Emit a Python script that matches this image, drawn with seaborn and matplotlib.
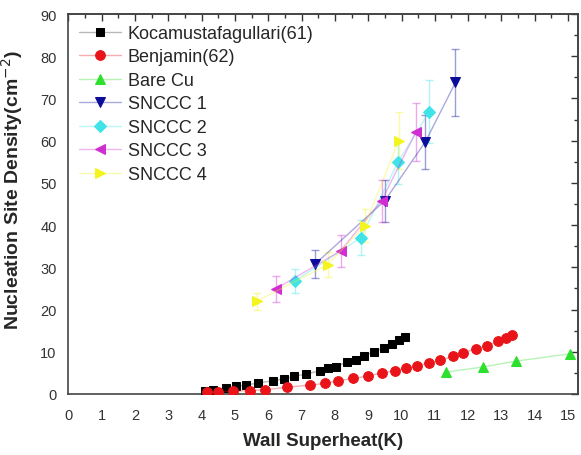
import numpy as np
import pandas as pd
import matplotlib
matplotlib.use('Agg')
import matplotlib.pyplot as plt
import seaborn as sns

# values
koca_x = [4.10, 4.34, 4.73, 5.03, 5.33, 5.69, 6.14, 6.47, 6.77, 7.13, 7.55,
          7.78, 8.03, 8.35, 8.63, 8.88, 9.18, 9.47, 9.70, 9.93, 10.11]
koca_y = [0.8, 1.0, 1.35, 1.8, 2.1, 2.6, 3.15, 3.55, 4.2, 4.7, 5.5,
          6.1, 6.5, 7.5, 8.1, 9.1, 10.0, 10.9, 11.8, 12.9, 13.6]

benj_x = [4.15, 4.48, 4.95, 5.45, 5.90, 6.55, 7.25, 7.70, 8.10, 8.55, 8.98, 9.40,
          9.80, 10.13, 10.47, 10.82, 11.17, 11.55, 11.85, 12.23, 12.58, 12.90, 13.13, 13.33]
benj_y = [0.4, 0.55, 0.65, 0.8, 1.0, 1.6, 2.1, 2.5, 3.15, 3.7, 4.2, 5.0,
          5.5, 6.1, 6.7, 7.3, 8.0, 8.9, 9.7, 10.7, 11.4, 12.5, 13.2, 14.0]

cu_x = [11.35, 12.45, 13.45, 15.05]
cu_y = [5.2, 6.4, 7.8, 9.5]

s1_x = [7.41, 9.50, 10.72, 11.62]
s1_y = [30.8, 45.8, 59.8, 73.8]
s1_e = [3.4, 5.0, 6.4, 8.0]

s2_x = [6.80, 8.78, 9.89, 10.84]
s2_y = [26.8, 37.0, 54.9, 66.9]
s2_e = [2.8, 4.1, 5.1, 7.4]

s3_x = [6.23, 8.17, 9.40, 10.43]
s3_y = [24.9, 33.9, 45.8, 62.0]
s3_e = [3.0, 3.8, 5.0, 6.9]

s4_x = [5.66, 7.78, 8.90, 9.92]
s4_y = [22.0, 30.6, 39.9, 60.0]
s4_e = [2.0, 3.0, 4.0, 6.8]

sns.set_style('white')
plt.rcParams['font.family'] = ['Liberation Sans', 'DejaVu Sans']

fig = plt.figure(figsize=(5.81, 4.56), dpi=100)
ax = fig.add_axes([0.1176, 0.1338, 0.995 - 0.1176, 0.967 - 0.1338])

series = [
    ('Kocamustafagullari(61)', koca_x, koca_y, None, 's', '#000000', 5.5),
    ('Benjamin(62)', benj_x, benj_y, None, 'o', '#e8141a', 7),
    ('Bare Cu', cu_x, cu_y, None, '^', '#2ee02e', 7),
    ('SNCCC 1', s1_x, s1_y, s1_e, 'v', '#0c0c9a', 7.5),
    ('SNCCC 2', s2_x, s2_y, s2_e, 'D', '#3fe3e8', 6),
    ('SNCCC 3', s3_x, s3_y, s3_e, '<', '#d02ed0', 7.5),
    ('SNCCC 4', s4_x, s4_y, s4_e, '>', '#f4f41e', 7.5),
]

for name, xs, ys, err, mk, col, ms in series:
    df = pd.DataFrame({'x': xs, 'y': ys})
    if err is not None:
        ax.errorbar(xs, ys, yerr=err, fmt='none', ecolor=col, alpha=0.4,
                    elinewidth=1, capsize=3, capthick=1, zorder=1)
    line_col = matplotlib.colors.to_rgba(col, 0.35)
    if name.startswith('Koca'):
        line_col = (0.6, 0.6, 0.6, 0.7)
    sns.lineplot(data=df, x='x', y='y', ax=ax, color=line_col, lw=1,
                 marker=mk, markersize=ms, markerfacecolor=col,
                 markeredgecolor=col, label=name, zorder=3)

ax.set_xlim(0, 15.3)
ax.set_ylim(0, 90)
ax.set_xticks(range(0, 16))
ax.set_yticks(range(0, 91, 10))
ax.set_xticks(np.arange(0.5, 15.3, 1), minor=True)
ax.set_yticks(range(5, 90, 10), minor=True)
ax.tick_params(axis='both', which='major', direction='out', length=5, width=1,
               labelsize=10.5, labelcolor='#333333', color='#333333')
ax.tick_params(axis='both', which='minor', direction='out', length=3, width=1,
               color='#333333')
ax.tick_params(axis='x', pad=5)

top = ax.secondary_xaxis('top')
top.set_xticks(range(0, 16))
top.set_xticks(np.arange(0.5, 15.3, 1), minor=True)
top.tick_params(which='major', direction='in', length=5, width=1, labeltop=False, color='#333333')
top.tick_params(which='minor', direction='in', length=3, width=1, color='#333333')
right = ax.secondary_yaxis('right')
right.set_yticks(range(0, 91, 10))
right.set_yticks(range(5, 90, 10), minor=True)
right.tick_params(which='major', direction='in', length=5, width=1, labelright=False, color='#333333')
right.tick_params(which='minor', direction='in', length=3, width=1, color='#333333')

for sp in list(ax.spines.values()) + [top.spines['top'], right.spines['right']]:
    sp.set_color('#444444')
    sp.set_linewidth(1.2)

ax.set_xlabel('Wall Superheat(K)', fontsize=13.5, fontweight='bold', labelpad=7)
ax.set_ylabel('Nucleation Site Density(cm$^{-2}$)', fontsize=14, fontweight='bold')
ax.yaxis.set_label_coords(-0.085, 0.54)

ax.legend(loc='upper left', frameon=False, fontsize=13, handlelength=2.3,
          labelspacing=0.36, borderaxespad=0.2, handletextpad=0.4,
          bbox_to_anchor=(0.0, 1.0))

fig.savefig('out.png', dpi=100)
